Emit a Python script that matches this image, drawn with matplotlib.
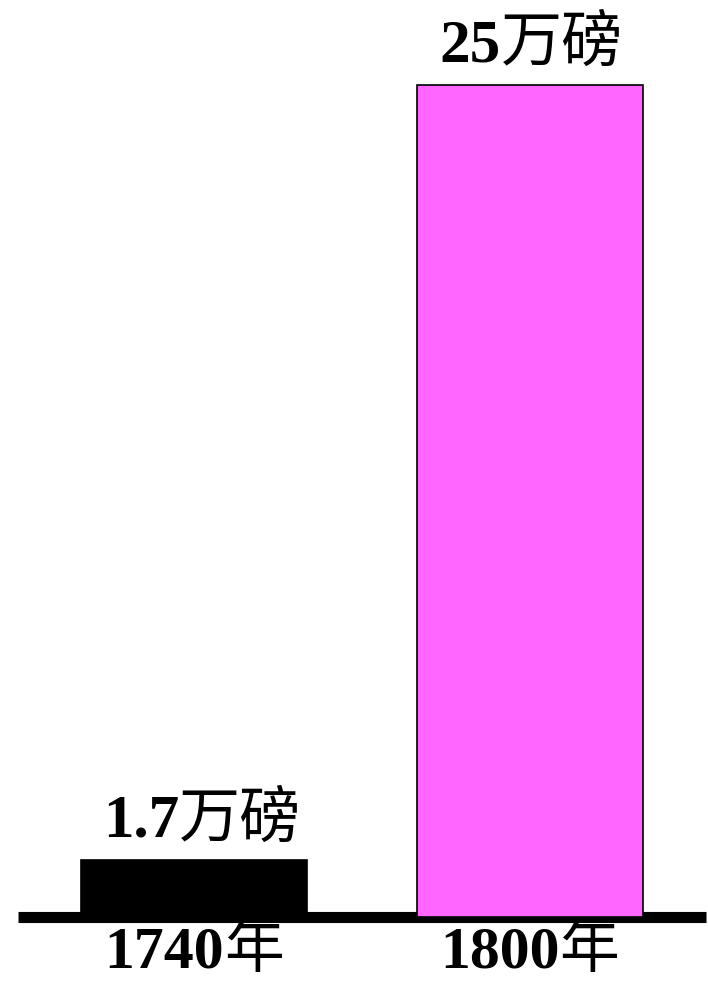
import matplotlib
matplotlib.use("Agg")
import matplotlib.pyplot as plt

categories = ["1740年", "1800年"]
values = [1.7, 25]
value_labels = ["1.7万磅", "25万磅"]
colors = ["#000000", "#FF66FF"]

W, H = 708, 983
fig = plt.figure(figsize=(W / 100, H / 100), dpi=100)
# axes: x from px 18 to 706, y from px 917 (value 0) to px 85 (value 25)
ax = fig.add_axes([18 / W, (H - 917) / H, (706 - 18) / W, (917 - 85) / H])
ax.set_xlim(-0.525, 1.526)
ax.set_ylim(0, 25)
ax.axis("off")

ax.axhline(0, color="black", linewidth=8, zorder=1, clip_on=False,
           solid_capstyle="butt")

xs = list(range(len(categories)))
bars = ax.bar(xs, values, width=0.674, color=colors, edgecolor="black",
              linewidth=1.2, zorder=2, clip_on=False)

renderer = fig.canvas.get_renderer()


def split_label(s):
    i = 0
    while i < len(s) and (s[i].isdigit() or s[i] == "."):
        i += 1
    return s[:i], s[i:]


def mixed_label(x, y, s, dy, size, dx=0):
    num, cjk = split_label(s)
    a1 = ax.annotate(num, xy=(x, y), xytext=(0, dy), textcoords="offset pixels",
                     ha="left", va="baseline", fontsize=size, fontweight="bold",
                     family="Liberation Serif", annotation_clip=False)
    a2 = ax.annotate(cjk, xy=(x, y), xytext=(0, dy), textcoords="offset pixels",
                     ha="left", va="baseline", fontsize=size,
                     fontweight="medium", family="Noto Sans CJK SC",
                     annotation_clip=False)
    w1 = a1.get_window_extent(renderer).width
    w2 = a2.get_window_extent(renderer).width
    total = w1 + w2
    a1.xyann = (dx - total / 2, dy)
    a2.xyann = (dx - total / 2 + w1, dy)


for x, v, lab, dx in zip(xs, values, value_labels, [8, 2]):
    mixed_label(x, v, lab, 24, 44, dx)
for x, cat in zip(xs, categories):
    mixed_label(x, 0, cat, -50, 43)

fig.savefig("out.png", dpi=100)
